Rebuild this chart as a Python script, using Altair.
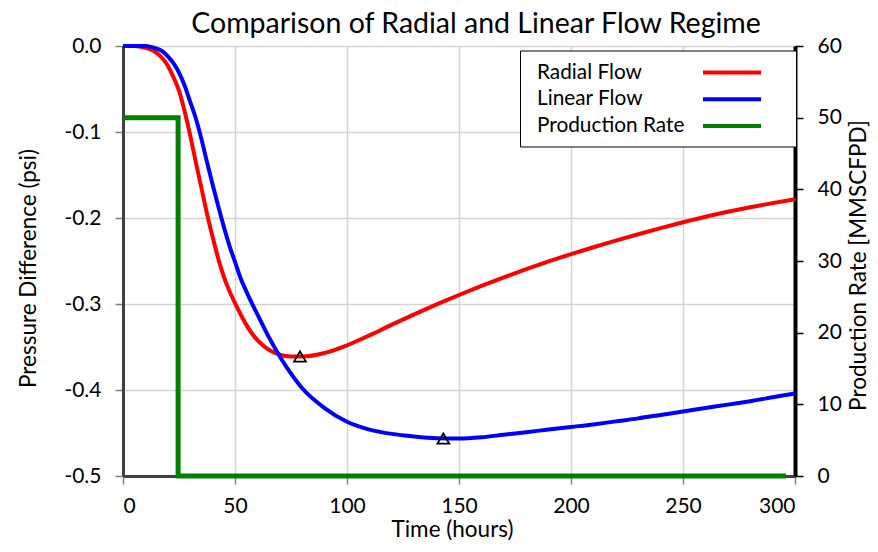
import altair as alt
import pandas as pd

FONT = "Lato"

# ---- data ----
time_h = [0, 5, 10, 12.5, 15, 17.5, 20, 22.5, 25, 27.5, 30, 32.5, 35, 37.5, 40,
          42.5, 45, 47.5, 50, 52.5, 55, 57.5, 60, 65, 70, 75, 80, 90,
          100, 110, 120, 130, 140, 150, 160, 170, 180, 190, 200, 210, 220, 230,
          240, 250, 260, 270, 280, 290, 300]
radial_flow = [0, 0, -0.002, -0.004, -0.008, -0.014, -0.023, -0.036, -0.052, -0.076,
               -0.104, -0.135, -0.165, -0.195, -0.222, -0.247, -0.268, -0.285,
               -0.299, -0.312, -0.324, -0.334, -0.342, -0.353, -0.359, -0.361,
               -0.361, -0.357, -0.348, -0.3365, -0.324, -0.312, -0.3005, -0.2895,
               -0.279, -0.269, -0.2595, -0.2505, -0.242, -0.234, -0.2263, -0.2189,
               -0.2118, -0.205, -0.1986, -0.1928, -0.1875, -0.1827, -0.1783]
linear_flow = [0, 0, 0, -0.001, -0.003, -0.006, -0.012, -0.020, -0.031, -0.046,
               -0.065, -0.084, -0.108, -0.135, -0.161, -0.186, -0.210, -0.232,
               -0.251, -0.270, -0.285, -0.299, -0.312, -0.338, -0.361, -0.381,
               -0.398, -0.421, -0.437, -0.446, -0.451, -0.454, -0.456, -0.4565,
               -0.455, -0.452, -0.449, -0.446, -0.443, -0.440, -0.4365, -0.433,
               -0.429, -0.425, -0.421, -0.417, -0.413, -0.4085, -0.404]
rate_time = [0, 24.6, 24.6, 296]
rate_vals = [50, 50, 0, 0]
min_time = [79, 143]
min_vals = [-0.361, -0.4565]

series_names = ["Radial Flow", "Linear Flow", "Production Rate"]
series_colors = ["#FF0000", "#0000FF", "#008000"]
x_ticks = [0, 50, 100, 150, 200, 250, 300]
p_ticks = [-0.5, -0.4, -0.3, -0.2, -0.1, 0.0]
q_ticks = [0, 10, 20, 30, 40, 50, 60]

n = len(time_h)
df_p = pd.DataFrame({
    "t": time_h + time_h,
    "p": radial_flow + linear_flow,
    "series": [series_names[0]] * n + [series_names[1]] * n,
})
df_q = pd.DataFrame({"t": rate_time, "q": rate_vals, "series": series_names[2]})
df_m = pd.DataFrame({"t": min_time, "p": min_vals})

color_scale = alt.Scale(domain=series_names, range=series_colors)
# line swatch drawn to the right of the labels, as in the reference
legend = alt.Legend(
    title=None, orient="none", legendX=397, legendY=4.5,
    symbolType="M-2.9,0H2.9M4.6,0", symbolStrokeWidth=4, symbolSize=400,
    symbolOffset=190, labelOffset={"expr": "-207"},
    labelFont=FONT, labelFontSize=20.8, labelColor="black",
    rowPadding=4.7, padding=10,
    fillColor="white", strokeColor="black",
)

x_enc = alt.X("t:Q", scale=alt.Scale(domain=[0, 300], nice=False, zero=False),
              axis=alt.Axis(values=x_ticks, title="Time (hours)", grid=True,
                            gridColor="#d4d4d4", gridWidth=1.5,
                            domainColor="#404040", domainWidth=3,
                            tickColor="#808080", tickSize=8, tickWidth=1.5,
                            labelFont=FONT, labelFontSize=21, labelColor="black",
                            labelPadding=11, titleFont=FONT, titleFontSize=22.5,
                            titleFontWeight="normal", titleColor="black",
                            titleX=329, titleY=60, titleBaseline="alphabetic",
                            titleAlign="center"))

y_p = alt.Y("p:Q", scale=alt.Scale(domain=[-0.5, 0], nice=False, zero=False),
            axis=alt.Axis(values=p_ticks, title="Pressure Difference (psi)",
                          labelExpr="datum.value < 0 ? '-' + format(-datum.value, '.1f') : format(datum.value, '.1f')",
                          grid=True, gridColor="#d4d4d4", gridWidth=1.5,
                          domainColor="#404040", domainWidth=3,
                          tickColor="#808080", tickSize=8, tickWidth=1.5,
                          labelFont=FONT, labelFontSize=21, labelColor="black",
                          labelPadding=14, titleFont=FONT, titleFontSize=22.5,
                          titleFontWeight="normal", titleColor="black",
                          titleAngle=270, titleX=-95, titleY=222,
                          titleBaseline="middle", titleAlign="center"))

pressure = alt.Chart(df_p).mark_line(strokeWidth=4, interpolate="monotone", clip=False).encode(
    x=x_enc, y=y_p,
    color=alt.Color("series:N", scale=color_scale, legend=legend),
)

markers = alt.Chart(df_m).mark_point(shape="triangle-up", size=140, filled=False,
                                     color="black", strokeWidth=1.8, opacity=1).encode(
    x=alt.X("t:Q"), y=alt.Y("p:Q"),
)

rate = alt.Chart(df_q).mark_line(strokeWidth=5, clip=False).encode(
    x=alt.X("t:Q"),
    y=alt.Y("q:Q", scale=alt.Scale(domain=[0, 60], nice=False),
            axis=alt.Axis(orient="right", values=q_ticks, title="Production Rate [MMSCFPD]",
                          grid=False, domainColor="black", domainWidth=4,
                          tickColor="black", tickSize=8, tickWidth=1.5,
                          labelFont=FONT, labelFontSize=21, labelColor="black",
                          labelPadding=14, titleFont=FONT, titleFontSize=22.5,
                          titleFontWeight="normal", titleColor="black",
                          titleAngle=270, titleX=70, titleY=219,
                          titleBaseline="alphabetic", titleAlign="center")),
    color=alt.Color("series:N", scale=color_scale, legend=legend),
)

left = alt.layer(pressure, markers)
chart = alt.layer(left, rate).resolve_scale(y="independent").properties(
    width=672, height=430,
    autosize=alt.AutoSizeParams(type="none"),
    padding={"left": 115, "top": 38, "right": 75, "bottom": 64},
    title=alt.TitleParams("Comparison of Radial and Linear Flow Regime", font=FONT,
                          fontSize=28.5, fontWeight="normal", color="black",
                          anchor="middle", frame="group", baseline="alphabetic",
                          offset=15, dx=17, dy=41),
).configure_view(stroke="black", strokeWidth=3).configure_legend(
    strokeWidth=1.2).configure(background="white")

chart.save("out.html", embed_options={"renderer": "svg", "actions": False})
